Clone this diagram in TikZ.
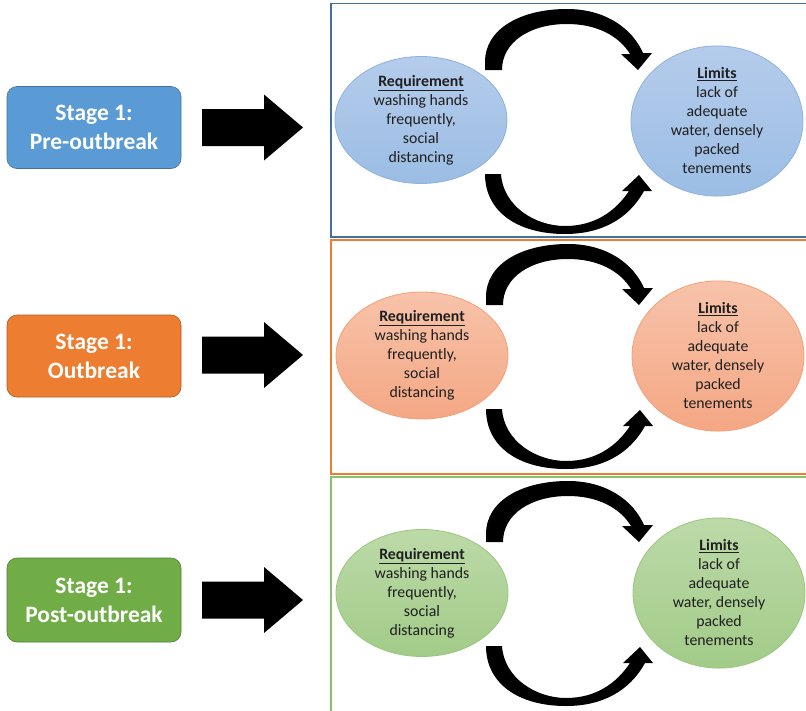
\documentclass[tikz,border=0pt]{standalone}
\usepackage{fontspec}
\setmainfont{Carlito}
\usetikzlibrary{shapes.geometric}
\definecolor{bluebox}{HTML}{5B9BD5}
\definecolor{blueboxline}{HTML}{41719C}
\definecolor{orangebox}{HTML}{ED7D31}
\definecolor{orangeboxline}{HTML}{AE5A21}
\definecolor{greenbox}{HTML}{70AD47}
\definecolor{greenboxline}{HTML}{507E32}
\definecolor{bluetop}{HTML}{B5CCEB}
\definecolor{bluebot}{HTML}{9BBDE4}
\definecolor{blueell}{HTML}{8DB2DE}
\definecolor{orangetop}{HTML}{F7C3AA}
\definecolor{orangebot}{HTML}{F4A784}
\definecolor{orangeell}{HTML}{F2A177}
\definecolor{greentop}{HTML}{BCDAA8}
\definecolor{greenbot}{HTML}{A2CB88}
\definecolor{greenell}{HTML}{9AC67E}
\definecolor{panelblue}{HTML}{41719C}
\definecolor{panelorange}{HTML}{ED7D31}
\definecolor{panelgreen}{HTML}{8CBF6C}
\definecolor{ink}{HTML}{1F1F1F}
\begin{document}
\begin{tikzpicture}[x=1pt,y=-1pt,
  stagebox/.style={draw, line width=0.6pt, rounded corners=10pt, minimum width=174pt, minimum height=82pt,
     inner sep=0pt, align=center, text=white, font=\fontsize{23.5}{29}\selectfont\bfseries},
  ellnode/.style={ellipse, draw, line width=0.8pt, minimum width=172pt, minimum height=123pt, inner sep=0pt,
     align=center, text=ink, font=\fontsize{15.8}{19}\selectfont},
  panel/.style={line width=1.1pt},
  blockarrow/.style={fill=black},
  toparrow/.pic={
    \fill[black] (485,70) -- (485,62) .. controls (485,28) and (522,9) .. (567,9)
       .. controls (605,9) and (632,28) .. (643,53) -- (652,53) -- (638,70) -- (621,54) -- (630,54)
       .. controls (619,36) and (597,24) .. (567,24)
       .. controls (530,24) and (502,42) .. (502,70) -- cycle;
  },
  botarrow/.pic={
    \fill[black] (485,174) -- (501,174) .. controls (503,206) and (535,226) .. (565,226)
       .. controls (594,226) and (615,212) .. (629,191) -- (622,191) -- (639,175) -- (652,191) -- (644,191)
       .. controls (628,220) and (600,234) .. (565,234)
       .. controls (518,234) and (485,212) .. (485,174) -- cycle;
  }
]
\useasboundingbox (0,0) rectangle (806,710);
\clip (0,0) rectangle (806,710);

% panels
\draw[panel, draw=panelblue] (331,3.5) rectangle (810,237);
\draw[panel, draw=panelorange] (331,240) rectangle (810,474);
\draw[panel, draw=panelgreen] (331,477) rectangle (810,714);

% stage boxes
\node[stagebox, fill=bluebox, draw=blueboxline] (s1) at (94,127.5) {Stage 1:\\Pre-outbreak};
\node[stagebox, fill=orangebox, draw=orangeboxline] (s2) at (94,356) {Stage 1:\\Outbreak};
\node[stagebox, fill=greenbox, draw=greenboxline, minimum height=84pt] (s3) at (94,600) {Stage 1:\\Post-outbreak};

% block arrows
\foreach \yc in {127.5,355,600}{
  \fill[blockarrow] (202,\yc-18.5) -- (264,\yc-18.5) -- (264,\yc-33) -- (303,\yc) -- (264,\yc+33)
     -- (264,\yc+18.5) -- (202,\yc+18.5) -- cycle;
}

% ellipses
\node[ellnode, draw=blueell, top color=bluetop, bottom color=bluebot] (req1) at (421,120)
  {\textbf{\underline{Requirement}}\\washing hands\\frequently,\\social\\distancing};
\node[ellnode, draw=blueell, top color=bluetop, bottom color=bluebot] (lim1) at (717,121)
  {\textbf{\underline{Limits}}\\lack of\\adequate\\water, densely\\packed\\tenements};

\node[ellnode, draw=orangeell, top color=orangetop, bottom color=orangebot] (req2) at (422,355.5)
  {\textbf{\underline{Requirement}}\\washing hands\\frequently,\\social\\distancing};
\node[ellnode, draw=orangeell, top color=orangetop, bottom color=orangebot] (lim2) at (718,356)
  {\textbf{\underline{Limits}}\\lack of\\adequate\\water, densely\\packed\\tenements};

\node[ellnode, draw=greenell, top color=greentop, bottom color=greenbot] (req3) at (422,593)
  {\textbf{\underline{Requirement}}\\washing hands\\frequently,\\social\\distancing};
\node[ellnode, draw=greenell, top color=greentop, bottom color=greenbot] (lim3) at (719,593)
  {\textbf{\underline{Limits}}\\lack of\\adequate\\water, densely\\packed\\tenements};

% curved arrows
\pic at (0,0) {toparrow};
\pic at (0,0) {botarrow};
\pic at (1,235) {toparrow};
\pic at (1,235) {botarrow};
\pic at (1,472) {toparrow};
\pic at (1,472) {botarrow};
\end{tikzpicture}
\end{document}
